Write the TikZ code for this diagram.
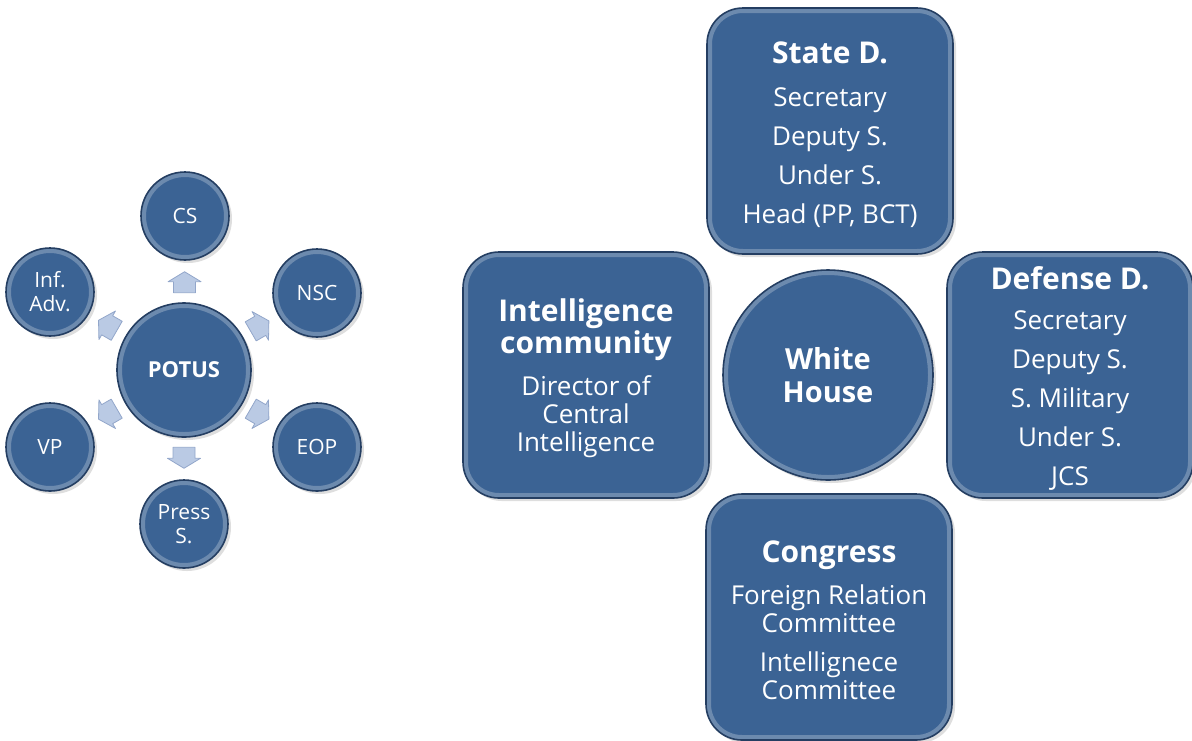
\documentclass[tikz,border=0pt]{standalone}
\usepackage{fontspec}
\setmainfont{Open Sans}
\usepackage{tikz}
\usetikzlibrary{calc, shadows}
\definecolor{panelblue}{RGB}{59,99,148}
\definecolor{paneledge}{RGB}{36,62,98}
\definecolor{arrowfill}{RGB}{186,202,228}
\definecolor{arrowedge}{RGB}{146,166,202}

\newcommand{\headline}[1]{{\fontsize{15}{17}\selectfont\bfseries #1}}
\newcommand{\panelhead}[1]{\rule{0pt}{14.5pt}\headline{#1}}

\begin{document}
\begin{tikzpicture}[x=0.5pt, y=-0.5pt,
    every node/.style={text=white, align=center, font=\fontsize{13}{14}\selectfont},
    bevel/.style={fill=panelblue,
        drop shadow={shadow xshift=1.5pt, shadow yshift=-1.5pt, opacity=.35},
        postaction={draw=white, draw opacity=.25, line width=5pt},
        postaction={draw=paneledge, line width=.8pt}},
    panel/.style={bevel, rounded corners=18pt, minimum width=123pt, minimum height=123pt, inner sep=0pt},
    hub/.style={bevel, circle, inner sep=0pt},
    sat/.style={bevel, circle, minimum size=44pt, inner sep=0pt, font=\fontsize{10.5}{12}\selectfont},
    flow/.style={fill=arrowfill, draw=arrowedge, line width=.4pt, line join=round}]
    \useasboundingbox (0,0) rectangle (1192,740);

    % POTUS and staff
    \node[hub, minimum size=67pt, font=\fontsize{11}{13}\selectfont\bfseries] (potus) at (184,370) {POTUS};
    \node[sat] (cs) at (185,216) {CS};
    \node[sat] (nsc) at (317,293) {NSC};
    \node[sat] (eop) at (317,447) {EOP};
    \node[sat] (press) at (184,524) {Press\\S.};
    \node[sat] (vp) at (50,447) {VP};
    \node[sat] (inf) at (50,292) {Inf.\\Adv.};
    \foreach \sat/\ang in {cs/90, nsc/30, eop/-30, press/-90, vp/-150, inf/150}
        \path[flow, shift={($(potus)!0.57!(\sat)$)}, rotate=\ang]
            (-10.5,-11) -- (0.5,-11) -- (0.5,-16.5) -- (10.5,0) -- (0.5,16.5) -- (0.5,11) -- (-10.5,11) -- cycle;

    % White House and the four partners
    \node[hub, minimum size=105pt, font=\fontsize{14.5}{16.5}\selectfont\bfseries] (wh) at (828,375) {White\\House};
    \node[panel] (state) at (830,131) {\panelhead{State D.}\\[7.5pt] Secretary\\[5.4pt] Deputy S.\\[5.4pt] Under S.\\[5.4pt] Head (PP, BCT)};
    \node[panel] (intel) at (586,375) {\panelhead{Intelligence}\\[0pt] \headline{community}\\[7pt] Director of\\ Central\\ Intelligence};
    \node[panel] (defense) at (1070,375) {\panelhead{Defense D.}\\[6pt] Secretary\\[5.5pt] Deputy S.\\[5.5pt] S. Military\\[5.5pt] Under S.\\[5.5pt] JCS};
    \node[panel] (congress) at (829,617) {\panelhead{Congress}\\[7pt] Foreign Relation\\ Committee\\[5.5pt] Intellignece\\ Committee};
\end{tikzpicture}
\end{document}
